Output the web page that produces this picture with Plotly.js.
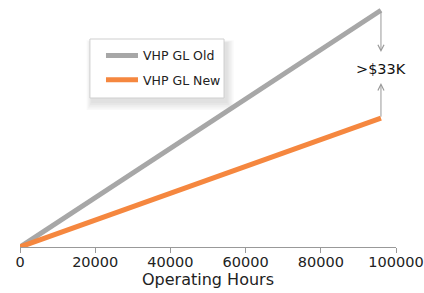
<!DOCTYPE html>
<html>
<head>
<meta charset="utf-8">
<script src="https://cdn.plot.ly/plotly-3.0.1.min.js"></script>
<style>html,body{margin:0;padding:0;background:#fff}#chart{width:424px;height:293px}</style>
</head>
<body>
<div id="chart"></div>
<script>
const hours = [0, 96000];
const costOld = [0, 72400];
const costNew = [0, 39400];
const seriesNames = ['VHP GL Old', 'VHP GL New'];
const gapLabel = '>$33K';
const xTicks = [0, 20000, 40000, 60000, 80000, 100000];

const fontFam = '"DejaVu Sans", sans-serif';
const traces = [
  {x: hours, y: costOld, name: seriesNames[0], legendgroup: 'a', mode: 'lines', line: {color: '#a7a7a7', width: 5}},
  {x: hours, y: costNew, name: seriesNames[1], legendgroup: 'b', mode: 'lines', line: {color: '#f5873f', width: 5}}
];
const xEnd = hours[hours.length - 1];
const yOld = costOld[costOld.length - 1];
const yNew = costNew[costNew.length - 1];
// paper coords for legend box
const bx0 = 0.186, bx1 = 0.5426, by0 = 0.6157, by1 = 0.8595;
const shadows = [];
for (let i = 1; i <= 5; i++) {
  shadows.push({type: 'rect', xref: 'paper', yref: 'paper', layer: 'below',
    x0: bx0 + 0.006 - i * 0.003, x1: bx1 + 0.006 + i * 0.004, y0: by0 - 0.015 - i * 0.007, y1: by1 - 0.015 + i * 0.002,
    fillcolor: 'rgba(0,0,0,0.022)', line: {width: 0}});
}
const layout = {
  width: 424, height: 293,
  margin: {l: 20, r: 28, t: 5, b: 46},
  paper_bgcolor: '#fff', plot_bgcolor: 'rgba(0,0,0,0)',
  font: {family: fontFam, color: '#222', size: 14},
  showlegend: true,
  legend: {x: 0.2154, y: 0.852, xanchor: 'left', yanchor: 'top', bgcolor: 'rgba(0,0,0,0)', borderwidth: 0,
           font: {size: 12.5, color: '#222'}, itemwidth: 32, tracegroupgap: 5, traceorder: 'grouped'},
  shapes: shadows.concat([
    {type: 'rect', xref: 'paper', yref: 'paper', layer: 'below', x0: bx0, x1: bx1, y0: by0, y1: by1,
     fillcolor: '#fff', line: {color: '#cfcfcf', width: 1}}
  ]),
  xaxis: {range: [0, 100000], tickvals: xTicks, ticktext: xTicks.map(String), showgrid: false, zeroline: false,
          showline: true, linecolor: '#999', linewidth: 1, ticks: 'outside', ticklen: 5, tickcolor: '#999',
          ticklabelstandoff: -3, ticklabeloverflow: 'allow', automargin: false,
          tickfont: {size: 14.5, color: '#222'},
          title: {text: 'Operating Hours', font: {size: 16, color: '#222'}, standoff: 0}},
  yaxis: {range: [0, 74000], visible: false, showgrid: false, zeroline: false},
  annotations: [
    {x: xEnd, y: 59600, ax: xEnd, ay: yOld, xref: 'x', yref: 'y', axref: 'x', ayref: 'y', text: '',
     showarrow: true, arrowhead: 5, arrowsize: 1.2, arrowwidth: 1, arrowcolor: '#999'},
    {x: xEnd, y: 50150, ax: xEnd, ay: yNew, xref: 'x', yref: 'y', axref: 'x', ayref: 'y', text: '',
     showarrow: true, arrowhead: 5, arrowsize: 1.2, arrowwidth: 1, arrowcolor: '#999'},
    {x: xEnd, y: 54400, xref: 'x', yref: 'y', text: gapLabel, showarrow: false, font: {size: 14.5, color: '#111'}}
  ]
};
Plotly.newPlot('chart', traces, layout, {staticPlot: true, displayModeBar: false});
</script>
</body>
</html>
